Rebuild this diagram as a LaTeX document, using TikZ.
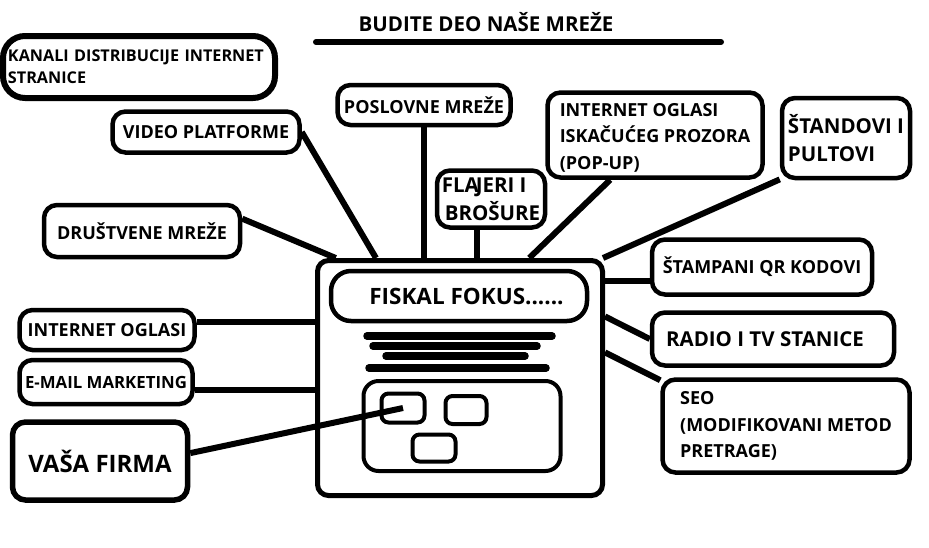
\documentclass[tikz,border=0pt]{standalone}
\usepackage{fontspec}
\setmainfont{Open Sans}
\usetikzlibrary{positioning}

\begin{document}
\begin{tikzpicture}[x=1pt, y=-1pt,
  box/.style={draw, line width=4.5pt, rounded corners=13pt, inner sep=0pt, align=left, font=\bfseries\fontsize{18}{26.5}\selectfont},
  sz/.style 2 args={minimum width=#1pt, minimum height=#2pt},
  big/.style={font=\bfseries\fontsize{20.5}{28}\selectfont},
  small/.style={font=\bfseries\fontsize{16.2}{22}\selectfont},
  link/.style={line width=6pt},
  bar/.style={line width=7.5pt, line cap=round},
  tile/.style={draw, line width=4pt, rounded corners=7pt, inner sep=0pt}
]
\useasboundingbox[fill=white] (0,0) rectangle (929,547);
% title
\node[font=\bfseries\fontsize{20.5}{24}\selectfont] (title) at (486,22) {BUDITE DEO NAŠE MREŽE};
\draw[link, line cap=round] (316,42) -- (721,42);
% the site in the middle
\node[box, line width=5pt, rounded corners=11pt, sz={285}{235}] (site) at (460,378) {};
\node[box, font=\bfseries\fontsize{22.5}{28}\selectfont, rounded corners=20pt, sz={256}{50}] (fiskal) at (459,296) {\hspace*{15pt}FISKAL FOKUS......};
\draw[bar] (367,336) -- (552,336);
\draw[bar] (373,346) -- (537,346);
\draw[bar] (386,356) -- (525,356);
\draw[bar] (369,368) -- (546,368);
\node[box, line width=4pt, rounded corners=15pt, sz={197}{90}] (panel) at (462,426) {};
\node[tile, sz={43}{29}] (tile1) at (403,408) {};
\node[tile, sz={41}{28}] (tile2) at (466,410) {};
\node[tile, sz={43}{27}] (tile3) at (434,448) {};
% channels, left side
\node[box, small, line width=6pt, rounded corners=22pt, sz={272}{62}, text width=262pt] (kanali) at (139,67) {KANALI DISTRIBUCIJE INTERNET\\STRANICE};
\node[box, sz={187}{41}] (video) at (206,132) {VIDEO PLATFORME};
\node[box, sz={196}{52}] (drustvene) at (142,231) {DRUŠTVENE MREŽE};
\node[box, sz={175}{40}] (inetl) at (107,330) {INTERNET OGLASI};
\node[box, font=\bfseries\fontsize{16.8}{22}\selectfont, sz={173}{44}] (email) at (106,382) {E-MAIL MARKETING};
\node[box, line width=5.5pt, font=\bfseries\fontsize{24}{28}\selectfont, sz={175}{78}] (firma) at (100,461) {VAŠA FIRMA};
% channels, top
\node[box, sz={173}{40}] (poslovne) at (424,105) {POSLOVNE MREŽE};
\node[box, big, sz={108}{57}] (flajeri) at (491,199) {FLA\kern-3pt JERI I\\\hspace*{3pt}BROŠURE};
\node[box, sz={215}{85}] (popup) at (655,135) {\strut INTERNET OGLASI\\ISKAČUĆEG PROZORA\\(POP-UP)};
\node[box, big, sz={128}{80}] (standovi) at (846,138) {ŠTANDOVI I\\PULTOVI};
% channels, right side
\node[box, sz={220}{55}] (qr) at (762,267) {ŠTAMPANI QR KODOVI};
\node[box, big, sz={242}{53}] (radio) at (773,339) {RADIO I TV STANICE\hspace*{16pt}};
\node[box, sz={247}{93}] (seo) at (786,426) {SEO\\(MODIFIKOVANI METOD\\PRETRAGE)};
% connectors to the site
\draw[link] (video.east) -- (site.125);
\draw[link] (drustvene.7) -- (site.136);
\draw[link] (poslovne.south) -- (poslovne.south |- site.north);
\draw[link] (flajeri.246) -- (flajeri.246 |- site.north);
\draw[link] (popup.225) -- (site.60);
\draw[link] (standovi.212) -- (site.40);
\draw[link] (qr.187) -- (qr.187 -| site.east);
\draw[link] (radio.west) -- (site.23);
\draw[link] (seo.160) -- (site.10);
\draw[link] (inetl.5) -- (inetl.5 -| site.west);
\draw[link] (email.355) -- (email.355 -| site.west);
\draw[link] (firma.5) -- (tile1.center);
\end{tikzpicture}
\end{document}
